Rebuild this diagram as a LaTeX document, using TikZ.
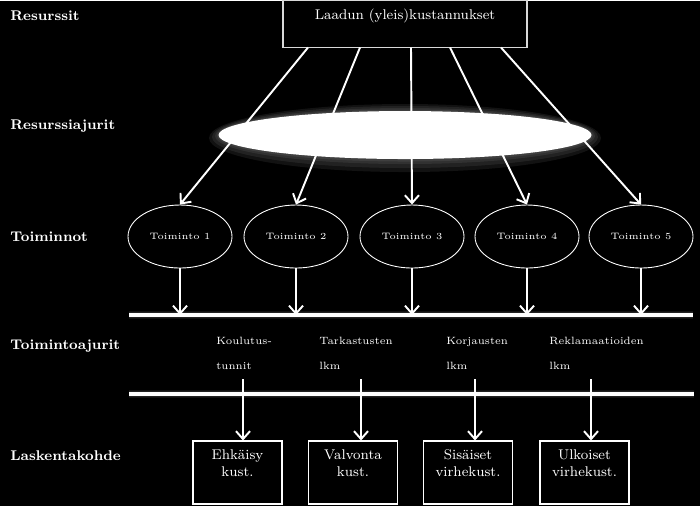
\documentclass[tikz,border=0pt]{standalone}
\usepackage{amsmath}
\usepackage{tikz}
\usetikzlibrary{shapes.geometric, arrows.meta}

\tikzset{
	lev/.style={anchor=west, text=white, inner sep=0pt, font=\fontsize{8}{9}\selectfont\bfseries},
	arr/.style={draw=white, line width=1.1pt, -{Straight Barb[length=4.5pt,width=8pt]}},
	act/.style={ellipse, draw=white, line width=0.5pt, minimum width=2.08cm, minimum height=1.26cm, inner sep=0pt, text=white, font=\fontsize{5.3}{6}\selectfont},
	obj/.style={rectangle, draw=white, line width=0.6pt, minimum width=1.78cm, minimum height=1.26cm},
	objtxt/.style={text=white, align=center, anchor=center, yshift=-0.45cm, font=\fontsize{8}{9.7}\selectfont},
	drv/.style={anchor=north west, align=left, inner sep=0pt, text=white, font=\fontsize{6}{14}\selectfont},
	bar/.style={draw=white, line width=2pt},
	glow/.style={white, opacity=0.07}
}

\begin{document}
\begin{tikzpicture}
	\fill[black] (0,0) rectangle (14,10.1);
	% tasot
	\node[lev] (lres) at (0.2,9.8) {Resurssit};
	\node[lev] (lraj) at (0.2,7.6) {Resurssiajurit};
	\node[lev] (ltoi) at (0.2,5.38) {Toiminnot};
	\node[lev] (ltaj) at (0.2,3.2) {Toimintoajurit};
	\node[lev] (llas) at (0.2,1.0) {Laskentakohde};
	%
	\node[rectangle, draw=white!85!black, line width=0.6pt, minimum width=4.88cm, minimum height=0.94cm,
		label={[text=white, anchor=center, yshift=-0.32cm, font=\fontsize{8}{9}\selectfont]north:Laadun (yleis)kustannukset}] (kust) at (8.1,9.64) {};
	\coordinate (s1) at (6.16,9.17);
	\coordinate (s2) at (7.2,9.17);
	\coordinate (s3) at (8.22,9.17);
	\coordinate (s4) at (9.0,9.17);
	\coordinate (s5) at (10.02,9.17);
	%
	\node[act] (t1) at (3.6,5.39) {Toiminto 1};
	\node[act] (t2) at (5.92,5.39) {Toiminto 2};
	\node[act] (t3) at (8.24,5.39) {Toiminto 3};
	\node[act] (t4) at (10.54,5.39) {Toiminto 4};
	\node[act] (t5) at (12.82,5.39) {Toiminto 5};
	\draw[arr] (s1) -- (t1.north);
	\draw[arr] (s2) -- (t2.north);
	\draw[arr] (s3) -- (t3.north);
	\draw[arr] (s4) -- (t4.north);
	\draw[arr] (s5) -- (t5.north);
	% resurssiajurit
	\fill[glow] (8.1,7.36) ellipse (3.92cm and 0.68cm);
	\fill[glow] (8.1,7.38) ellipse (3.86cm and 0.62cm);
	\fill[glow] (8.1,7.4) ellipse (3.8cm and 0.56cm);
	\fill[glow] (8.1,7.41) ellipse (3.76cm and 0.52cm);
	\node[ellipse, fill=white, minimum width=7.46cm, minimum height=0.96cm] (raj) at (8.1,7.42) {};
	%
	\coordinate (b1w) at (2.58,3.82);
	\coordinate (b1e) at (13.86,3.82);
	\draw[glow, line width=5pt] (b1w) -- (b1e);
	\draw[glow, line width=3.5pt] (b1w) -- (b1e);
	\draw[bar] (b1w) -- (b1e);
	\draw[arr] (t1.south) -- (t1.south |- b1w);
	\draw[arr] (t2.south) -- (t2.south |- b1w);
	\draw[arr] (t3.south) -- (t3.south |- b1w);
	\draw[arr] (t4.south) -- (t4.south |- b1w);
	\draw[arr] (t5.south) -- (t5.south |- b1w);
	% toimintoajurit
	\node[drv] (a1) at (4.32,3.38) {Koulutus-\\tunnit};
	\node[drv] (a2) at (6.38,3.38) {Tarkastusten\\lkm};
	\node[drv] (a3) at (8.92,3.38) {Korjausten\\lkm};
	\node[drv] (a4) at (10.98,3.38) {Reklamaatioiden\\lkm};
	\coordinate (b2w) at (2.58,2.24);
	\coordinate (b2e) at (13.88,2.24);
	\draw[glow, line width=5pt] (b2w) -- (b2e);
	\draw[glow, line width=3.5pt] (b2w) -- (b2e);
	\draw[bar] (b2w) -- (b2e);
	%
	\node[obj, label={[objtxt]north:Ehkäisy\\kust.}] (k1) at (4.75,0.67) {};
	\node[obj, label={[objtxt]north:Valvonta\\kust.}] (k2) at (7.06,0.67) {};
	\node[obj, label={[objtxt]north:Sisäiset\\virhekust.}] (k3) at (9.36,0.67) {};
	\node[obj, label={[objtxt]north:Ulkoiset\\virhekust.}] (k4) at (11.69,0.67) {};
	\coordinate (d1) at (4.86,2.54);
	\coordinate (d2) at (7.22,2.54);
	\coordinate (d3) at (9.5,2.54);
	\coordinate (d4) at (11.82,2.54);
	\draw[arr] (d1) -- (d1 |- k1.north);
	\draw[arr] (d2) -- (d2 |- k2.north);
	\draw[arr] (d3) -- (d3 |- k3.north);
	\draw[arr] (d4) -- (d4 |- k4.north);
\end{tikzpicture}
\end{document}
